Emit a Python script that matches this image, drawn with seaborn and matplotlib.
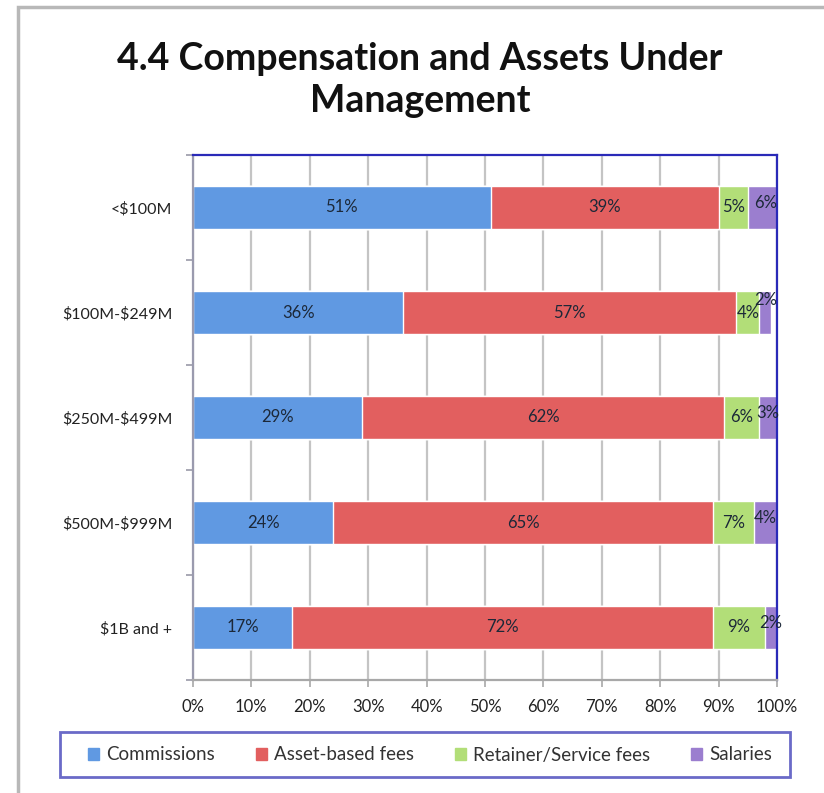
import matplotlib
matplotlib.use("Agg")
import matplotlib.pyplot as plt
import matplotlib.patches as mpatches
import numpy as np
import pandas as pd
import seaborn as sns

# data
segments = ["<$100M", "$100M-$249M", "$250M-$499M", "$500M-$999M", "$1B and +"]
series = ["Commissions", "Asset-based fees", "Retainer/Service fees", "Salaries"]
commissions = [51, 36, 29, 24, 17]
asset_fees = [39, 57, 62, 65, 72]
retainer_fees = [5, 4, 6, 7, 9]
salaries = [6, 2, 3, 4, 2]
x_ticks = list(range(0, 101, 10))

colors = ["#6099e2", "#e25f5f", "#b2de78", "#9b7ecf"]

sns.set_style("white")
plt.rcParams["font.family"] = ["Lato", "DejaVu Sans"]
plt.rcParams["text.parse_math"] = False

df = pd.DataFrame({
    "segment": segments,
    "Commissions": commissions,
    "Asset-based fees": asset_fees,
    "Retainer/Service fees": retainer_fees,
    "Salaries": salaries,
})
cum = df[series].cumsum(axis=1)

fig = plt.figure(figsize=(8.24, 7.93), dpi=100)
ax = fig.add_axes([193 / 824, 1 - 680 / 793, 584 / 824, 525 / 793])

ax.set_axisbelow(True)
ax.xaxis.grid(True, color="#c4c4c4", linewidth=1.6)

# stacked bars: draw cumulative totals back to front
for name, color in reversed(list(zip(series, colors))):
    sns.barplot(x=cum[name], y=df["segment"], orient="h", color=color,
                width=0.41, saturation=1, ax=ax, label=name)

# value labels centred in each segment; tiny salary labels sit a bit higher
for i in range(len(segments)):
    for name in series:
        val = df.loc[i, name]
        mid = cum.loc[i, name] - val / 2
        dy = 0.0
        if name == "Salaries":
            dy = -0.12 if val <= 2 and df.loc[i, "Retainer/Service fees"] < 5 else -0.04
        ax.text(mid, i + dy, f"{val}%", ha="center", va="center",
                fontsize=12, color="#1c2838")

ax.set_xlim(0, 100)
ax.set_ylim(4.5, -0.5)
ax.set_xticks(x_ticks)
ax.set_xticklabels([f"{t}%" for t in x_ticks], fontsize=12, color="#222222")
ax.set_yticks(range(len(segments)))
ax.set_yticklabels(segments, fontsize=11.5, color="#222222")
ax.set_yticks(np.arange(-0.5, 5, 1), minor=True)
ax.tick_params(axis="y", which="major", length=0, pad=15)
ax.tick_params(axis="y", which="minor", left=True, length=5, color="#9a9aa8", width=1.2)
ax.tick_params(axis="x", bottom=True, length=5, color="#a8a8a8", width=1.2, pad=9)
ax.set_xlabel("")
ax.set_ylabel("")

for side in ["top", "right"]:
    ax.spines[side].set_color("#2a2ab8")
    ax.spines[side].set_linewidth(1.6)
ax.spines["left"].set_color("#9a9aae")
ax.spines["left"].set_linewidth(1.6)
ax.spines["bottom"].set_color("#a8a8a8")
ax.spines["bottom"].set_linewidth(1.6)

if ax.get_legend() is not None:
    ax.get_legend().remove()

handles = [mpatches.Patch(color=c, label=s) for s, c in zip(series, colors)]
leg = fig.legend(handles=handles, loc="center", ncol=4,
                 bbox_to_anchor=(430 / 824, 1 - 755 / 793),
                 fontsize=13.5, frameon=False,
                 handlelength=0.6, handleheight=0.6, handletextpad=0.35,
                 columnspacing=2.2)
for t in leg.get_texts():
    t.set_color("#333333")

# legend box
fig.add_artist(mpatches.Rectangle((60 / 824, 1 - 777 / 793), 730 / 824, 45 / 793,
                                  transform=fig.transFigure, fill=False,
                                  edgecolor="#6a6ac8", linewidth=2))

fig.text(0.51, 1 - 42 / 793, "4.4 Compensation and Assets Under\nManagement",
         ha="center", va="top", fontsize=27, fontweight="bold",
         linespacing=1.3, color="#111111")

# outer chart border
fig.add_artist(mpatches.Rectangle((18 / 824, -0.1), 1.2, 1.1 - 7 / 793,
                                  transform=fig.transFigure, fill=False,
                                  edgecolor="#b8b8b8", linewidth=2.5))

fig.savefig("out.png", dpi=100)
